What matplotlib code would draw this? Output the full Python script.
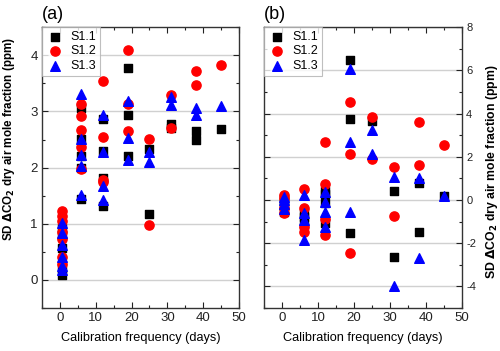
import matplotlib.pyplot as plt
from matplotlib.ticker import MultipleLocator

plt.rcParams['font.family'] = ['Liberation Sans', 'DejaVu Sans']
plt.rcParams['axes.unicode_minus'] = False

labels = ["S1.1", "S1.2", "S1.3"]

# panel (a)
a11_x = [0.5]*5 + [6]*5 + [12]*4 + [19]*3 + [25]*2 + [31]*2 + [38]*2 + [45]
a11_y = [0.09, 0.22, 0.57, 0.80, 0.93, 3.07, 2.51, 2.20, 2.00, 1.44,
         2.87, 2.29, 1.82, 1.31, 3.77, 2.94, 2.20, 2.33, 1.17,
         2.78, 2.70, 2.66, 2.49, 2.69]
a12_x = [0.5]*7 + [6]*5 + [12]*4 + [19]*3 + [25]*2 + [31]*2 + [38]*2 + [45]
a12_y = [0.28, 0.40, 0.72, 0.85, 1.05, 1.13, 1.22, 3.13, 2.91, 2.67, 2.37, 1.97,
         3.55, 2.54, 1.78, 1.74, 4.10, 3.13, 2.65, 2.51, 0.97,
         3.30, 2.71, 3.72, 3.47, 3.82]
a13_x = [0.5]*6 + [6]*5 + [12]*4 + [19]*3 + [25]*2 + [31]*2 + [38]*2 + [45]
a13_y = [0.18, 0.25, 0.40, 0.62, 0.83, 1.01, 3.31, 2.51, 2.22, 2.03, 1.52,
         2.94, 2.27, 1.68, 1.43, 3.19, 2.53, 2.13, 2.27, 2.10,
         3.25, 3.12, 3.06, 2.94, 3.10]

# panel (b)
b11_x = [0.5]*4 + [6]*3 + [12]*4 + [19]*3 + [25] + [31]*2 + [38]*2 + [45]
b11_y = [-0.55, -0.30, -0.10, 0.05, -0.60, -1.08, -0.80,
         0.43, 0.30, -0.15, -1.08, 6.46, 3.74, -1.54, 3.66,
         0.43, -2.65, 0.80, -1.46, 0.20]
b12_x = [0.5]*4 + [6]*4 + [12]*4 + [19]*3 + [25]*2 + [31]*2 + [38]*2 + [45]
b12_y = [0.25, 0.10, -0.35, -0.60, 0.49, -0.38, -1.23, -1.46,
         2.69, 0.74, -0.89, -1.62, 4.54, 2.15, -2.46, 3.85, 1.88,
         1.54, -0.74, 3.62, 1.62, 2.54]
b13_x = [0.5]*4 + [6]*4 + [12]*4 + [19]*3 + [25]*2 + [31]*2 + [38]*2 + [45]
b13_y = [0.15, 0.00, -0.20, -0.40, 0.23, -0.60, -0.92, -1.85,
         0.38, -0.08, -0.54, -1.23, 6.08, 2.69, -0.54, 3.23, 2.15,
         1.05, -4.00, 1.00, -2.70, 0.20]

ylab = r"SD $\mathbf{\Delta}$CO$_\mathbf{2}$ dry air mole fraction (ppm)"

fig = plt.figure(figsize=(5, 3.51), dpi=100)
ax1 = fig.add_axes([0.084, 0.1225, 0.394, 0.8])
ax2 = fig.add_axes([0.528, 0.1225, 0.396, 0.8])


def style(ax, ylim, ymaj):
    ax.set_xlim(-5, 50)
    ax.set_ylim(*ylim)
    ax.xaxis.set_major_locator(MultipleLocator(10))
    ax.xaxis.set_minor_locator(MultipleLocator(5))
    ax.yaxis.set_major_locator(MultipleLocator(ymaj))
    ax.yaxis.set_minor_locator(MultipleLocator(ymaj / 2))
    ax.tick_params(which="both", direction="in", top=True, right=True,
                   left=True, labelsize=9.5, colors="#222222", pad=3)
    ax.tick_params(which="major", length=4, width=0.8)
    ax.tick_params(which="minor", length=2, width=0.8)
    ax.grid(axis="y", which="major", color="#d0d0d0", lw=1)
    ax.set_axisbelow(True)
    for s in ax.spines.values():
        s.set_color("#333333")
        s.set_linewidth(1)
    ax.set_xlabel("Calibration frequency (days)", fontsize=9.2)
    ax.xaxis.set_label_coords(0.5, -0.085)


def draw(ax, data):
    (x1, y1), (x2, y2), (x3, y3) = data
    ax.scatter(x1, y1, marker="s", s=34, color="black", label=labels[0], zorder=3)
    ax.scatter(x2, y2, marker="o", s=44, color="#ff0000", label=labels[1], zorder=3)
    ax.scatter(x3, y3, marker="^", s=48, color="#0000ff", label=labels[2], zorder=3)
    leg = ax.legend(loc="upper left", fontsize=9, borderaxespad=0,
                    fancybox=False, handletextpad=0.5, borderpad=0.3,
                    labelspacing=0.2, handlelength=1.5)
    leg.get_frame().set_edgecolor("#b0b0b0")
    leg.get_frame().set_linewidth(0.8)


draw(ax1, [(a11_x, a11_y), (a12_x, a12_y), (a13_x, a13_y)])
style(ax1, (-0.5, 4.5), 1)
ax1.set_ylabel(ylab, fontsize=8.4, fontweight="bold")
ax1.yaxis.set_label_coords(-0.125, 0.60)
ax1.text(0.0, 1.03, "(a)", transform=ax1.transAxes, fontsize=13)

draw(ax2, [(b11_x, b11_y), (b12_x, b12_y), (b13_x, b13_y)])
style(ax2, (-5, 8), 2)
ax2.yaxis.tick_right()
ax2.tick_params(which="both", left=True, right=True, labelleft=False, labelright=True)
ax2.tick_params(axis="y", labelsize=8)
ax2.yaxis.set_label_position("right")
ax2.set_ylabel(ylab, fontsize=8.8, fontweight="bold", rotation=90)
ax2.yaxis.set_label_coords(1.113, 0.484)
ax2.text(0.0, 1.03, "(b)", transform=ax2.transAxes, fontsize=13)

fig.savefig("out.png", dpi=100)
